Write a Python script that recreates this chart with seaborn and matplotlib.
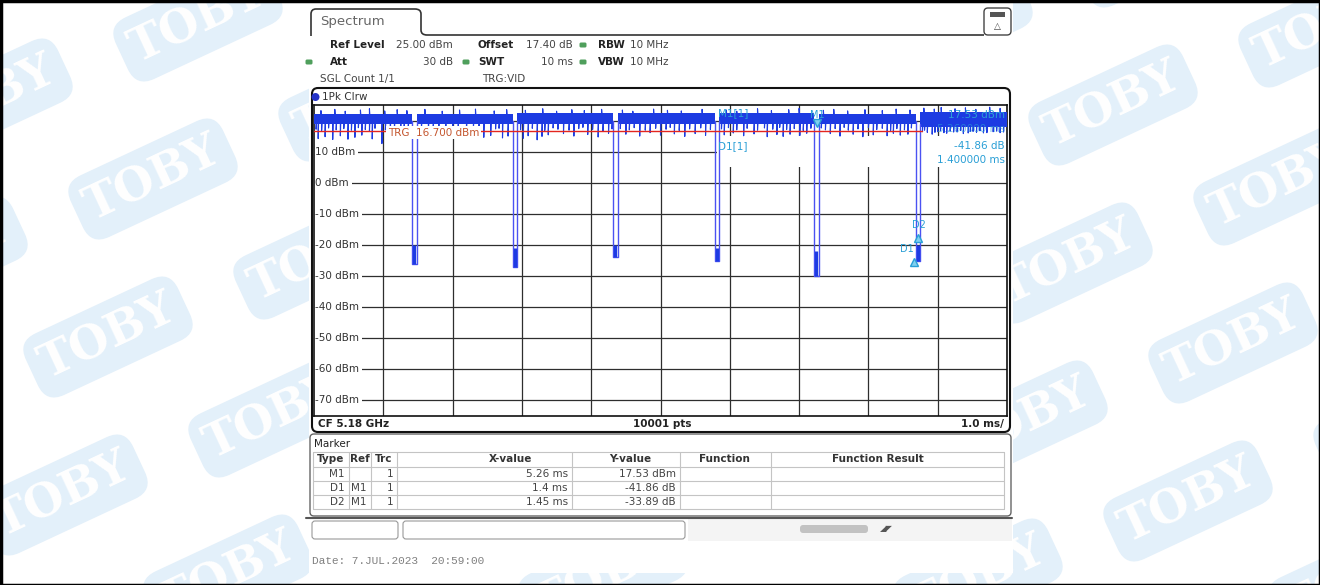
import numpy as np
import pandas as pd
import matplotlib
matplotlib.use("Agg")
import matplotlib.pyplot as plt
import matplotlib.transforms as mtransforms
from matplotlib.patches import FancyBboxPatch, Rectangle, Circle, PathPatch
from matplotlib.path import Path
import seaborn as sns

sns.set_theme(style="white")
plt.rcParams["font.family"] = ["DejaVu Sans"]

# ---- screen settings / values
sweep_ms = [-2.0, 8.0]          # 10 ms sweep, 1.0 ms/div
ref_level_dbm = 25.0
bottom_dbm = -75.0
grid_dbm = [20, 10, 0, -10, -20, -30, -40, -50, -60, -70]
label_dbm = [10, 0, -10, -20, -30, -40, -50, -60, -70]
trg_level_dbm = 16.7
trg_line_end_ms = 6.77

# burst gaps (trace drops between bursts)
gap_start_ms = [-0.58, 0.87, 2.32, 3.78, 5.22, 6.68]
gap_end_ms = [-0.52, 0.93, 2.38, 3.84, 5.28, 6.74]
gap_floor_dbm = [-26, -27, -24, -25, -30, -25]
gap_blob_dbm = [-20, -21, -20, -21, -22, -20]

# noise band of the bursts, one entry per segment between gaps
band_top_dbm = [22.2, 22.2, 22.3, 22.3, 22.3, 22.2, 22.8]
band_low_dbm = [18.8, 18.9, 18.9, 19.0, 19.0, 18.8, 18.0]

# deep downward noise spikes
spike_ms = [-1.94, -1.84, -1.73, -1.62, -1.51, -1.41, -1.31, -1.16, -1.02, -0.9, -0.75,
            -0.35, -0.1, 0.2, 0.45, 0.55, 0.72, 0.8,
            1.02, 1.09, 1.22, 1.29, 1.38, 1.6, 1.75, 1.95, 2.1, 2.25,
            2.5, 2.7, 2.85, 3.0, 3.2, 3.35, 3.5, 3.65,
            3.92, 4.05, 4.2, 4.35, 4.54, 4.68, 4.77, 4.87, 5.01, 5.11,
            5.45, 5.59, 5.78, 5.92, 6.07, 6.27, 6.36, 6.46, 6.57,
            6.85, 6.92, 7.0, 7.13, 7.28, 7.37, 7.51, 7.66, 7.8, 7.9]
spike_dbm = [14.2, 14.8, 13.9, 15.1, 14.0, 14.6, 15.3, 14.1, 12.6, 14.9, 15.2,
             15.5, 15.0, 15.4, 14.6, 15.2, 14.4, 15.0,
             14.3, 15.1, 13.8, 14.9, 15.4, 15.8, 15.0, 15.5, 14.7, 15.9,
             15.6, 15.0, 16.1, 15.3, 15.7, 14.9, 15.8, 15.2,
             15.4, 16.0, 15.1, 15.7, 14.8, 15.5, 14.9, 15.6, 15.2, 15.9,
             15.8, 15.0, 15.6, 14.8, 15.4, 15.1, 15.9, 15.3, 15.6,
             16.2, 15.6, 16.4, 15.9, 16.3, 15.8, 16.5, 16.0, 16.4, 16.1]
# shallow downward spikes
shallow_ms = [-1.97, -1.89, -1.79, -1.68, -1.57, -1.46, -1.36, -1.26, -1.2, -1.12, -0.97, -0.84, -0.7, -0.64,
              -0.45, -0.28, -0.2, 0.0, 0.08, 0.3, 0.38, 0.62, 0.67,
              0.98, 1.15, 1.33, 1.45, 1.52, 1.68, 1.82, 1.88, 2.02, 2.17, 2.3,
              2.42, 2.55, 2.62, 2.78, 2.93, 3.08, 3.14, 3.27, 3.42, 3.58, 3.72,
              3.88, 3.98, 4.1, 4.25, 4.4, 4.5, 4.62, 4.72, 4.82, 4.93, 5.06, 5.17,
              5.32, 5.38, 5.52, 5.65, 5.71, 5.85, 6.0, 6.12, 6.2, 6.32, 6.41, 6.52, 6.62,
              6.78, 6.81, 6.96, 7.04, 7.09, 7.18, 7.23, 7.33, 7.44, 7.47, 7.56, 7.61, 7.71, 7.85, 7.95]
shallow_dbm = [17.2, 16.8, 17.6, 17.0, 17.4, 16.9, 17.7, 17.1, 16.6, 17.5, 17.0, 16.7, 17.3, 17.8,
               17.1, 17.6, 16.9, 17.4, 17.0, 17.7, 16.8, 17.3, 17.5,
               17.0, 17.5, 16.8, 17.6, 17.2, 16.9, 17.4, 17.8, 17.1, 16.7, 17.3,
               17.4, 17.0, 17.7, 16.9, 17.5, 17.2, 17.8, 16.8, 17.3, 17.6, 17.1,
               17.3, 17.7, 17.0, 17.5, 16.9, 17.6, 17.2, 17.8, 17.1, 17.4, 16.8, 17.5,
               17.6, 17.0, 17.4, 17.8, 16.9, 17.3, 17.7, 17.1, 17.5, 16.8, 17.4, 17.0, 17.6,
               16.4, 16.9, 16.2, 16.7, 16.1, 16.6, 16.3, 16.8, 16.0, 16.5, 16.2, 16.7, 16.1, 16.6, 16.3]
# upward noise spikes
up_ms = [-1.9, -1.7, -1.55, -1.33, -1.2, -0.98, -0.8, -0.66, -0.4, -0.15, 0.1, 0.33, 0.6, 0.78,
         1.05, 1.3, 1.5, 1.72, 1.9, 2.15, 2.45, 2.6, 2.9, 3.1, 3.3, 3.6, 3.95, 4.1, 4.4, 4.6, 4.85, 5.0,
         5.35, 5.5, 5.7, 5.95, 6.2, 6.4, 6.6, 6.8, 6.95, 7.05, 7.25, 7.4, 7.55, 7.75, 7.9]
up_dbm = [23.2, 23.6, 23.0, 23.4, 23.8, 23.1, 23.5, 23.2, 23.6, 23.0, 23.4, 23.7, 23.1, 23.5,
          23.3, 23.8, 23.0, 23.5, 23.2, 23.6, 23.4, 23.0, 23.7, 23.3, 23.1, 23.6, 23.4, 23.0, 23.8, 23.2, 23.5, 23.9,
          23.3, 23.6, 23.1, 23.5, 23.2, 23.7, 23.4, 24.0, 23.7, 24.2, 23.8, 24.1, 23.6, 24.3, 23.9]

# markers
m1_ms, m1_dbm = 5.26, 17.53
d1_ms, d1_db = 1.4, -41.86
d2_ms, d2_db = 1.45, -33.89

# marker table
tbl_type = ["M1", "D1", "D2"]
tbl_ref = ["", "M1", "M1"]
tbl_trc = ["1", "1", "1"]
tbl_x = ["5.26 ms", "1.4 ms", "1.45 ms"]
tbl_y = ["17.53 dBm", "-41.86 dB", "-33.89 dB"]
tbl_head = ["Type", "Ref", "Trc", "X-value", "Y-value", "Function", "Function Result"]

trace_color = "#1d3be2"
gap_color = "#4b52f2"
mk_color = "#2a9fd6"
txt = "#222222"

W, H = 1320, 585
fig = plt.figure(figsize=(W / 100, H / 100), dpi=100)

# ---- background with TOBY watermark
bg = fig.add_axes([0, 0, 1, 1], zorder=0)
bg.set_xlim(0, W)
bg.set_ylim(H, 0)
bg.axis("off")
wm_angle = 25
for i in range(-4, 10):
    for j in range(-6, 7):
        cx = 153 + 210 * i + 45 * j
        cy = 179 - 78 * i - 158 * j
        if -120 < cx < W + 120 and -90 < cy < H + 90:
            tr = mtransforms.Affine2D().rotate_deg_around(cx, cy, -wm_angle) + bg.transData
            bg.add_patch(FancyBboxPatch((cx - 84, cy - 34), 168, 68,
                                        boxstyle="round,pad=0,rounding_size=20",
                                        fc="#e3f0fa", ec="none", transform=tr))
            bg.text(cx, cy, "TOBY", rotation=wm_angle, rotation_mode="anchor",
                    ha="center", va="center", color="white", fontsize=33,
                    fontweight="bold", family="DejaVu Serif", clip_on=True)

# ---- screenshot panel
ov = fig.add_axes([0, 0, 1, 1], zorder=1)
ov.set_xlim(0, W)
ov.set_ylim(H, 0)
ov.axis("off")
ov.add_patch(Rectangle((309, 3), 704, 570, fc="white", ec="none"))
ov.add_patch(Rectangle((0, 0), W, 3, fc="#9a9a9a", ec="none"))
ov.add_patch(Rectangle((0.5, 0.5), W - 1, H - 1, fc="none", ec="black", lw=2.5))

# tab
tab = Path([(311, 36), (311, 14), (311, 9), (316, 9), (415, 9), (421, 9), (421, 14),
            (421, 30), (421, 35), (427, 35), (984, 35)],
           [Path.MOVETO, Path.LINETO, Path.CURVE3, Path.CURVE3, Path.LINETO, Path.CURVE3,
            Path.CURVE3, Path.LINETO, Path.CURVE3, Path.CURVE3, Path.LINETO])
ov.add_patch(PathPatch(tab, fc="none", ec="#333333", lw=1.2))
ov.text(320, 22, "Spectrum", fontsize=9.5, color="#666666", va="center")
ov.add_patch(FancyBboxPatch((984, 8), 27, 27, boxstyle="round,pad=0,rounding_size=4",
                            fc="white", ec="#444444", lw=1))
ov.add_patch(Rectangle((990, 12), 15, 5, fc="#555555", ec="none"))
ov.text(997.5, 26, "\u25b3", fontsize=6.5, color="#444444", ha="center", va="center")

# header rows
hfs = 7.5
def green(x, y):
    ov.add_patch(FancyBboxPatch((x - 3.5, y - 2.5), 7, 5, boxstyle="round,pad=0,rounding_size=1.5",
                                fc="#4f9f5c", ec="none"))

for y, items in [
    (45, [(330, "Ref Level", "bold", "left"), (453, "25.00 dBm", "normal", "right"),
          (478, "Offset", "bold", "left"), (573, "17.40 dB", "normal", "right"),
          (598, "RBW", "bold", "left"), (630, "10 MHz", "normal", "left")]),
    (62, [(330, "Att", "bold", "left"), (453, "30 dB", "normal", "right"),
          (478, "SWT", "bold", "left"), (573, "10 ms", "normal", "right"),
          (598, "VBW", "bold", "left"), (630, "10 MHz", "normal", "left")]),
    (79, [(320, "SGL Count 1/1", "normal", "left"), (482, "TRG:VID", "normal", "left")]),
]:
    for x, s, wgt, ha in items:
        ov.text(x, y, s, fontsize=hfs, fontweight=wgt, ha=ha, va="center",
                color=txt if wgt == "bold" else "#444444")
green(583, 45)
green(309, 62)
green(466, 62)
green(583, 62)

# trace frame
ov.add_patch(FancyBboxPatch((312, 88), 698, 344, boxstyle="round,pad=0,rounding_size=6",
                            fc="white", ec="#111111", lw=1.5))
ov.add_patch(Circle((315.5, 97), 4, fc="#2433c8", ec="none"))
ov.text(322, 97, "1Pk Clrw", fontsize=hfs, color="#333333", va="center")
ov.text(318, 424, "CF 5.18 GHz", fontsize=hfs, fontweight="bold", color=txt, va="center")
ov.text(662, 424, "10001 pts", fontsize=hfs, fontweight="bold", color=txt, va="center", ha="center")
ov.text(1004, 424, "1.0 ms/", fontsize=hfs, fontweight="bold", color=txt, va="center", ha="right")

# marker table panel
ov.add_patch(FancyBboxPatch((310, 434), 701, 82, boxstyle="round,pad=0,rounding_size=4",
                            fc="white", ec="#666666", lw=1))
ov.text(314, 444, "Marker", fontsize=hfs, color=txt, va="center")
col_x = [313, 349, 371, 397, 572, 680, 771, 1004]
row_y = [452, 467, 481, 495, 509]
for y in row_y:
    ov.plot([col_x[0], col_x[-1]], [y, y], color="#c4c4c4", lw=0.8)
for x in col_x:
    ov.plot([x, x], [row_y[0], row_y[-1]], color="#c4c4c4", lw=0.8)
head_cx = [331, 360, 384, 510, 630, 724, 878]
for cx, s in zip(head_cx, tbl_head):
    ov.text(cx, 459.5, s, fontsize=hfs, fontweight="bold", color="#333333", ha="center", va="center")
for r, y in enumerate(np.array(row_y[1:4]) + 7):
    for col, vals in zip([1, 2, 3, 4, 5], [tbl_type, tbl_ref, tbl_trc, tbl_x, tbl_y]):
        ov.text(col_x[col] - 4, y, vals[r], fontsize=hfs, color="#444444", ha="right", va="center")

# bottom status bar
ov.plot([306, 1012], [518, 518], color="#555555", lw=1.5)
ov.add_patch(Rectangle((688, 519), 324, 22, fc="#f4f4f4", ec="none"))
ov.add_patch(FancyBboxPatch((312, 521), 86, 18, boxstyle="round,pad=0,rounding_size=3",
                            fc="white", ec="#999999", lw=0.8))
ov.add_patch(FancyBboxPatch((403, 521), 282, 18, boxstyle="round,pad=0,rounding_size=3",
                            fc="white", ec="#999999", lw=0.8))
ov.add_patch(FancyBboxPatch((800, 525), 68, 8, boxstyle="round,pad=0,rounding_size=3",
                            fc="#c2c2c2", ec="none"))
ov.text(886, 529, "\u25e2\u25e4", fontsize=6, color="#555555", ha="center", va="center")
ov.text(312, 561, "Date: 7.JUL.2023  20:59:00", fontsize=8, color="#808080",
        va="center", family="Liberation Mono")

# ---- trace diagram
ax = fig.add_axes([314 / W, (H - 416) / H, 693 / W, 311 / H], zorder=2)
ax.set_xlim(sweep_ms)
ax.set_ylim(bottom_dbm, ref_level_dbm)
ax.set_xticks(np.linspace(sweep_ms[0], sweep_ms[1], 11)[1:-1])
ax.set_yticks(grid_dbm)
ax.set_axisbelow(True)
ax.grid(True, color="#2e2e2e", lw=0.9)
ax.tick_params(length=0, labelbottom=False, labelleft=False)
for sp in ax.spines.values():
    sp.set_color("#111111")
    sp.set_linewidth(1.2)

ytr = ax.get_yaxis_transform()
for v in label_dbm:
    ax.text(0.002, v, f"{v} dBm", transform=ytr, fontsize=hfs, color="#333333", va="center",
            bbox=dict(fc="white", ec="none", pad=1.8), zorder=2)

# marker info box (covers grid)
ax.add_patch(Rectangle((0.581, 0.80), 0.42, 0.10, transform=ax.transAxes,
                       fc="white", ec="none", zorder=2.5))

seg_start = [sweep_ms[0]] + gap_end_ms
seg_end = gap_start_ms + [sweep_ms[1]]
for s, e, top, low in zip(seg_start, seg_end, band_top_dbm, band_low_dbm):
    ax.fill_between([s, e], low, top, color=trace_color, lw=0, zorder=3)

def seg_of(t):
    return int(np.searchsorted(gap_start_ms, t))

rows = []
for k, (t, d) in enumerate(zip(spike_ms + shallow_ms, spike_dbm + shallow_dbm)):
    base = band_low_dbm[seg_of(t)] + 0.5
    rows += [(k, t, base), (k, t, d), (k, t + 0.006, base)]
for k, (t, d) in enumerate(zip(up_ms, up_dbm)):
    base = band_top_dbm[seg_of(t)] - 0.5
    rows += [(1000 + k, t, base), (1000 + k, t, d), (1000 + k, t + 0.006, base)]
spikes = pd.DataFrame(rows, columns=["unit", "ms", "dbm"])
sns.lineplot(data=spikes, x="ms", y="dbm", units="unit", estimator=None, sort=False,
             color=trace_color, lw=0.8, legend=False, ax=ax, zorder=3.2)

rows = []
for k, (t0, t1, fl) in enumerate(zip(gap_start_ms, gap_end_ms, gap_floor_dbm)):
    lo0 = band_low_dbm[k] + 1
    lo1 = band_low_dbm[k + 1] + 1
    rows += [(k, t0, lo0), (k, t0, fl), (k, t1, fl), (k, t1, lo1)]
gaps = pd.DataFrame(rows, columns=["gap", "ms", "dbm"])
sns.lineplot(data=gaps, x="ms", y="dbm", units="gap", estimator=None, sort=False,
             color=gap_color, lw=1.0, legend=False, ax=ax, zorder=4)
gap_mid = (np.array(gap_start_ms) + np.array(gap_end_ms)) / 2
ax.vlines(gap_mid, gap_floor_dbm, gap_blob_dbm, color=trace_color, lw=2.4, zorder=4.2)

# trigger level
ax.plot([sweep_ms[0], trg_line_end_ms], [trg_level_dbm] * 2, color="#e3261f", lw=1, zorder=5)
ax.text(0.107, trg_level_dbm - 0.6, "TRG  16.700 dBm", fontsize=hfs, color="#c4562e",
        transform=ytr, va="center", bbox=dict(fc="white", ec="none", pad=1.2), zorder=5.5)

# markers
up = mtransforms.offset_copy(ax.transData, fig=fig, x=0, y=5, units="dots")
dn = mtransforms.offset_copy(ax.transData, fig=fig, x=0, y=-4, units="dots")
ax.plot(m1_ms, m1_dbm, marker="v", ms=6, mfc="#7fd0f0", mec=mk_color, transform=up, zorder=6)
ax.annotate("M1", (m1_ms, m1_dbm), xytext=(0, 13), textcoords="offset pixels",
            fontsize=7, color=mk_color, ha="center", va="center", zorder=6)
for name, dms, ddb, dx in [("D1", d1_ms, d1_db, -7), ("D2", d2_ms, d2_db, 1)]:
    px, py = m1_ms + dms, m1_dbm + ddb
    ax.plot(px, py, marker="^", ms=6, mfc="#7fd0f0", mec=mk_color, transform=dn, zorder=6)
    ax.annotate(name, (px, py), xytext=(dx, 9), textcoords="offset pixels",
                fontsize=7, color=mk_color, ha="center", va="center", zorder=6)

atr = ax.transAxes
ax.text(0.583, 0.974, "M1[1]", transform=atr, fontsize=hfs, color=mk_color, va="center", zorder=6)
ax.text(0.997, 0.968, f"{m1_dbm:.2f} dBm", transform=atr, fontsize=hfs, color=mk_color,
        ha="right", va="center", zorder=6)
ax.text(0.997, 0.924, f"{m1_ms:.6f} ms", transform=atr, fontsize=hfs, color=mk_color,
        ha="right", va="center", zorder=6, alpha=0.6)
ax.text(0.583, 0.868, "D1[1]", transform=atr, fontsize=hfs, color=mk_color, va="center", zorder=6)
ax.text(0.997, 0.868, f"{d1_db:.2f} dB", transform=atr, fontsize=hfs, color=mk_color,
        ha="right", va="center", zorder=6)
ax.text(0.997, 0.823, f"{d1_ms:.6f} ms", transform=atr, fontsize=hfs, color=mk_color,
        ha="right", va="center", zorder=6)

fig.savefig("out.png", dpi=100)
